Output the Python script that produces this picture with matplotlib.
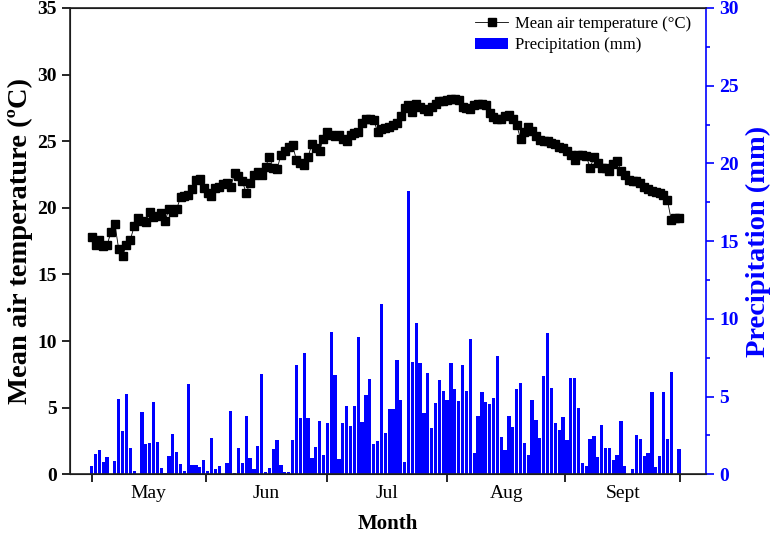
import numpy as np
import matplotlib.pyplot as plt

plt.rcParams['font.family'] = ['Liberation Serif', 'DejaVu Serif']

# daily mean air temperature (C), 1 May - 30 Sept
temp = [17.8, 17.2, 17.6, 17.1, 17.2, 18.2, 18.8, 16.9, 16.4, 17.2,
        17.6, 18.6, 19.2, 19.0, 18.9, 19.7, 19.3, 19.4, 19.6, 19.0,
        19.9, 19.7, 19.9, 20.8, 20.9, 21.0, 21.4, 22.1, 22.2, 21.5,
        21.1, 20.9, 21.5, 21.6, 21.8, 21.9, 21.6, 22.6, 22.4, 22.0,
        21.1, 21.9, 22.5, 22.7, 22.5, 23.1, 23.8, 23.0, 22.9, 24.0,
        24.3, 24.6, 24.7, 23.6, 23.4, 23.2, 23.8, 24.8, 24.5, 24.3,
        25.2, 25.7, 25.5, 25.4, 25.5, 25.2, 25.0, 25.5, 25.6, 25.7,
        26.4, 26.7, 26.7, 26.6, 25.7, 25.9, 26.0, 26.1, 26.2, 26.4,
        26.9, 27.5, 27.7, 27.2, 27.8, 27.6, 27.4, 27.3, 27.6, 27.8,
        28.0, 28.0, 28.1, 28.2, 28.2, 28.1, 27.6, 27.5, 27.4, 27.7,
        27.8, 27.8, 27.7, 27.1, 26.8, 26.7, 26.7, 26.9, 27.0, 26.7,
        26.2, 25.2, 25.7, 26.1, 25.8, 25.4, 25.1, 25.0, 25.0, 24.9,
        24.8, 24.6, 24.5, 24.3, 24.0, 23.6, 24.0, 24.0, 23.9, 23.0,
        23.8, 23.4, 23.0, 23.0, 22.8, 23.3, 23.5, 22.8, 22.5, 22.1,
        22.0, 22.0, 21.9, 21.6, 21.4, 21.3, 21.2, 21.1, 21.0, 20.6,
        19.1, 19.2, 19.2]

# daily precipitation (mm)
precip = [0.55, 1.28, 1.54, 0.81, 1.13, 0, 0.85, 4.87, 2.78, 5.19,
          1.67, 0.24, 0, 4.0, 1.92, 2.03, 4.66, 2.07, 0.38, 0.1,
          1.15, 2.58, 1.43, 0.64, 0.2, 5.83, 0.58, 0.6, 0.49, 0.94,
          0.24, 2.31, 0.34, 0.51, 0, 0.7, 4.06, 0.06, 1.71, 0.72,
          3.78, 1.02, 0.33, 1.85, 6.47, 0.14, 0.38, 1.63, 2.22, 0.62,
          0.17, 0.14, 2.2, 7.0, 3.63, 7.78, 3.63, 1.02, 1.76, 3.44,
          1.23, 3.33, 9.15, 6.37, 1.0, 3.32, 4.39, 3.11, 4.38, 8.83,
          3.36, 5.07, 6.15, 1.98, 2.13, 10.93, 2.66, 4.18, 4.17, 7.38,
          4.76, 0.8, 18.2, 7.24, 9.76, 7.16, 3.94, 6.49, 3.0, 4.58,
          6.04, 5.33, 4.77, 7.16, 5.46, 4.72, 7.0, 5.34, 8.73, 1.38,
          3.73, 5.28, 4.68, 4.54, 4.91, 7.59, 2.43, 1.56, 3.74, 3.07,
          5.49, 5.9, 2.01, 1.26, 4.8, 3.48, 2.31, 6.34, 9.08, 5.57,
          3.31, 2.88, 3.66, 2.19, 6.19, 6.22, 4.28, 0.75, 0.54, 2.28,
          2.49, 1.14, 3.14, 1.7, 1.72, 0.92, 1.23, 3.44, 0.52, 0,
          0.34, 2.56, 2.24, 1.16, 1.35, 5.29, 0.45, 1.16, 5.31, 2.28,
          6.6, 0, 1.61]

month_edges = [0, 29.5, 61, 92, 122.6, 152.3]
month_names = ['May', 'Jun', 'Jul', 'Aug', 'Sept']

days = np.arange(len(temp))
month_mid = [(a + b) / 2 for a, b in zip(month_edges[:-1], month_edges[1:])]

fig = plt.figure(figsize=(7.77, 5.36), dpi=100)
ax = fig.add_axes([0.0901, 0.1151, 0.8185, 0.8700])
ax2 = ax.twinx()

bars = ax2.bar(days, precip, width=0.85, color='#0000ff', edgecolor='none',
               label='Precipitation (mm)')
line, = ax.plot(days, temp, '-s', color='black', lw=0.6, ms=6.3, mec='black',
                label='Mean air temperature (°C)')

ax.set_xlim(-5.6, 159.0)
ax.set_ylim(0, 35)
ax2.set_ylim(0, 30)

# left axis
ax.set_yticks(range(0, 36, 5))
ax.set_yticklabels([str(v) for v in range(0, 36, 5)], fontweight='bold', fontsize=14)
ax.tick_params(axis='y', direction='out', length=6, width=1.2)
ax.set_ylabel('Mean air temperature (ºC)', fontsize=20.5, fontweight='bold', labelpad=3)

# right axis
ax2.set_yticks(range(0, 31, 5))
ax2.set_yticks(np.arange(2.5, 30, 5), minor=True)
ax2.set_yticklabels([str(v) for v in range(0, 31, 5)], fontweight='bold', fontsize=14, color='blue')
ax2.tick_params(axis='y', which='major', direction='out', length=6, width=1.2, colors='blue')
ax2.tick_params(axis='y', which='minor', direction='out', length=3, width=1.2, colors='blue')
ax2.set_ylabel('Precipitation (mm)', fontsize=20.5, fontweight='bold', color='blue', labelpad=5)

# x axis: ticks at month boundaries, names in between
ax.set_xticks(month_edges)
ax.set_xticklabels([])
ax.set_xticks(month_mid, minor=True)
ax.set_xticklabels(month_names, minor=True, fontsize=14)
ax.tick_params(axis='x', which='major', direction='out', length=6, width=1.2)
ax.tick_params(axis='x', which='minor', length=0, pad=8)
ax.set_xlabel('Month', fontsize=15, fontweight='bold', labelpad=8)

for sp in ['top', 'bottom', 'left']:
    ax2.spines[sp].set_linewidth(1.2)
    ax2.spines[sp].set_color('#222222')
ax2.spines['right'].set_color('blue')
ax2.spines['right'].set_linewidth(1.2)
ax.spines['right'].set_visible(False)

ax2.legend([line, bars], ['Mean air temperature (°C)', 'Precipitation (mm)'],
           loc='upper right', bbox_to_anchor=(0.99, 1.0), frameon=False,
           fontsize=12, borderaxespad=0.1, handlelength=2.0,
           handletextpad=0.4, labelspacing=0.3)

plt.savefig('out.png', dpi=100)
